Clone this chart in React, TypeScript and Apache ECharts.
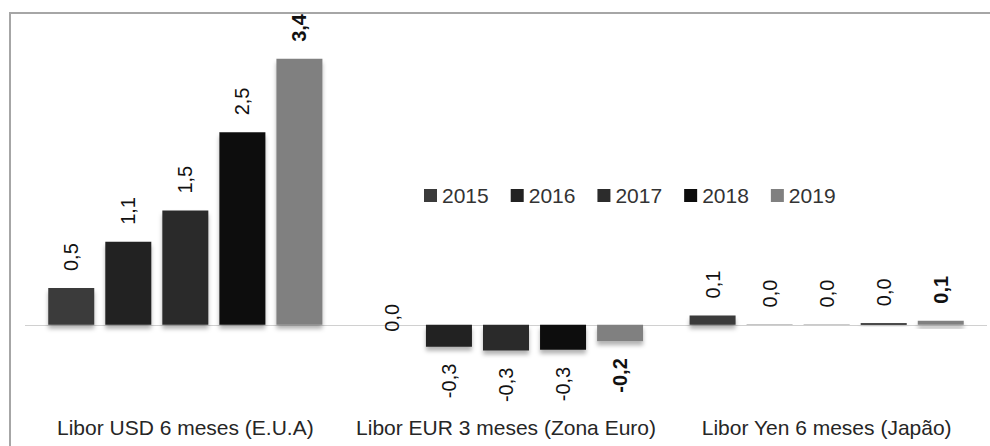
import React, { useEffect, useRef } from "react";
import * as echarts from "echarts";

const categories = [
  "Libor USD 6 meses (E.U.A)",
  "Libor EUR 3 meses (Zona Euro)",
  "Libor Yen 6 meses (Japão)",
];
const years = ["2015", "2016", "2017", "2018", "2019"];
const v2015 = [0.47, 0, 0.12];
const v2016 = [1.06, -0.28, 0.004];
const v2017 = [1.46, -0.33, 0.004];
const v2018 = [2.46, -0.32, 0.02];
const v2019 = [3.4, -0.21, 0.052];
const seriesValues = [v2015, v2016, v2017, v2018, v2019];
const colors = ["#3b3b3b", "#222222", "#2c2c2c", "#0d0d0d", "#808080"];

const FONT = "Liberation Sans";

function fmt(v: number) {
  return v.toFixed(1).replace(".", ",");
}

export default function App() {
  const ref = useRef<HTMLDivElement>(null);
  useEffect(() => {
    if (!ref.current) return;
    const chart = echarts.init(ref.current, undefined, { renderer: "svg" });
    const series = years.map((y, si) => ({
      name: y,
      type: "bar",
      barWidth: 46,
      barGap: "24%",
      itemStyle: {
        color: colors[si],
        shadowBlur: 4,
        shadowOffsetY: 4,
        shadowColor: "rgba(0,0,0,0.3)",
      },
      data: seriesValues[si].map((v) => {
        const pos = v > 0 ? "top" : v < 0 ? "bottom" : "inside";
        const align = v > 0 ? "left" : v < 0 ? "right" : "center";
        return {
          value: v,
          label: {
            show: true,
            position: pos,
            rotate: 90,
            align,
            verticalAlign: "middle",
            distance: 17,
            offset: v === 0 ? [7, 0] : [0, 0],
            formatter: fmt(v),
            fontFamily: FONT,
            fontSize: 20,
            color: "#111111",
            fontWeight: si === 4 ? "bold" : "normal",
          },
        };
      }),
      ...(si === 0
        ? {
            markLine: {
              silent: true,
              symbol: "none",
              label: { show: false },
              lineStyle: { color: "#d0d0d0", type: "solid", width: 1 },
              data: [{ yAxis: 0 }],
              z: 1,
            },
          }
        : {}),
    }));
    chart.setOption({
      animation: false,
      textStyle: { fontFamily: FONT },
      grid: { left: 25, right: 3, top: 51, bottom: 43, containLabel: false },
      legend: {
        data: years,
        left: 419,
        top: 180,
        icon: "rect",
        itemWidth: 13,
        itemHeight: 13,
        itemGap: 22,
        textStyle: { fontFamily: FONT, fontSize: 21, color: "#333333" },
      },
      xAxis: {
        type: "category",
        data: categories,
        axisLine: { show: false },
        axisTick: { show: false },
        splitLine: { show: false },
        axisLabel: {
          margin: 14,
          fontFamily: FONT,
          fontSize: 21,
          color: "#262626",
          interval: 0,
        },
      },
      yAxis: {
        type: "value",
        min: -1,
        max: 3.5,
        show: false,
        splitLine: { show: false },
      },
      graphic: [
        {
          type: "line",
          shape: { x1: 10, y1: 12, x2: 10, y2: 446 },
          style: { stroke: "#a6a6a6", lineWidth: 2 },
          silent: true,
          z: -10,
        },
        {
          type: "line",
          shape: { x1: 9, y1: 13, x2: 990, y2: 13 },
          style: { stroke: "#a6a6a6", lineWidth: 2 },
          silent: true,
          z: -10,
        },
      ],
      series,
    });
    return () => chart.dispose();
  }, []);
  return (
    <div
      ref={ref}
      style={{ position: "absolute", left: 0, top: 0, width: 990, height: 446, overflow: "hidden" }}
    />
  );
}
